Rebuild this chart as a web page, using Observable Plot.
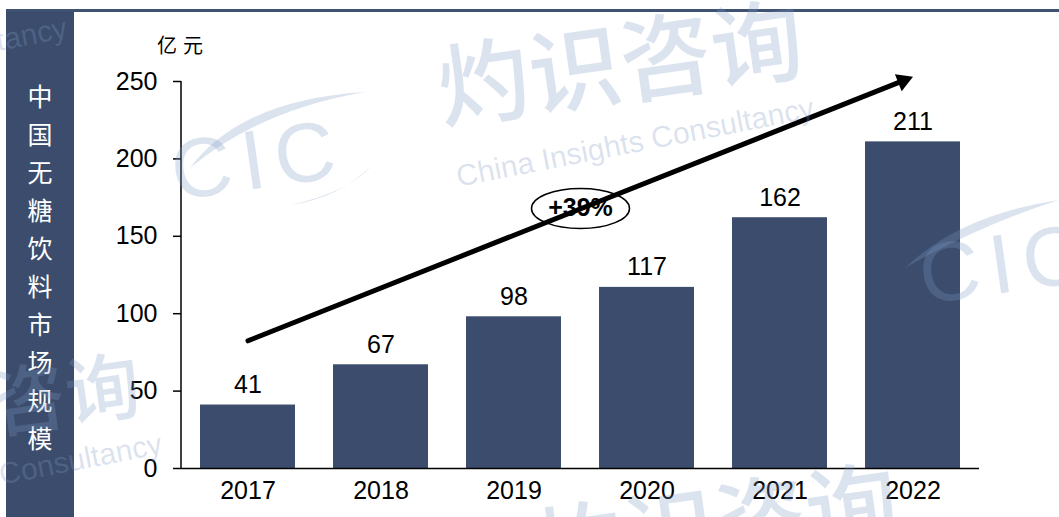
<!DOCTYPE html>
<html><head><meta charset="utf-8">
<script src="https://cdn.jsdelivr.net/npm/d3@7"></script>
<script src="https://cdn.jsdelivr.net/npm/@observablehq/plot@0.6"></script>
<style>
html,body{margin:0;padding:0;background:#fff;overflow:hidden;}
#wrap{position:relative;width:1059px;height:517px;overflow:hidden;background:#fff;}
#band{position:absolute;left:6px;top:10px;width:68px;height:507px;background:#3B4C6C;}
#topline{position:absolute;left:6px;top:9px;width:1053px;height:3px;background:#3F5272;}
#chart{position:absolute;left:0;top:0;}
#title{position:absolute;left:6px;width:68px;top:76px;color:#fff;font-family:"Noto Sans CJK SC",sans-serif;font-size:25px;line-height:38px;text-align:center;}
#unit{position:absolute;left:157px;top:33px;font-family:"Noto Sans CJK SC",sans-serif;font-size:20px;line-height:24px;letter-spacing:6px;color:#000;}
#wm{position:absolute;left:0;top:0;pointer-events:none;}
</style></head><body>
<div id="wrap">
  <div id="band"></div>
  <div id="topline"></div>
  <div id="chart"></div>
  <div id="title"></div>
  <div id="unit"></div>
  <svg id="wm" width="1059" height="517"></svg>
</div>
<script>
// ---- data ----
const years = ["2017", "2018", "2019", "2020", "2021", "2022"];
const values = [41, 67, 98, 117, 162, 211];
const yTicks = [0, 50, 100, 150, 200, 250];
const unitLabel = "亿元";
const titleText = "中国无糖饮料市场规模";
const cagrLabel = "+39%";
const trendStart = {year: "2017", value: 82.5};
const trendEnd = {year: "2022", value: 253};
const cagrPos = {year: "2019", value: 168};

const data = years.map((y, i) => ({year: y, value: values[i]}));

const barColor = "#3B4C6C";
const ellipseSymbol = {
  draw(ctx) {
    const rx = 49, ry = 20, k = 0.5523;
    ctx.moveTo(rx, 0);
    ctx.bezierCurveTo(rx, k * ry, k * rx, ry, 0, ry);
    ctx.bezierCurveTo(-k * rx, ry, -rx, k * ry, -rx, 0);
    ctx.bezierCurveTo(-rx, -k * ry, -k * rx, -ry, 0, -ry);
    ctx.bezierCurveTo(k * rx, -ry, rx, -k * ry, rx, 0);
    ctx.closePath();
  }
};

const plot = Plot.plot({
  width: 1059, height: 517,
  marginLeft: 181, marginRight: 80, marginTop: 81, marginBottom: 49,
  style: {fontFamily: "'Liberation Sans', Arial, sans-serif", fontSize: "25px", color: "#000", background: "none", overflow: "visible"},
  x: {domain: years, paddingInner: 0.286, paddingOuter: 0.143},
  y: {domain: [0, 250]},
  marks: [
    Plot.barY(data, {x: "year", y: "value", fill: barColor}),
    Plot.ruleY([0], {stroke: "#000", strokeWidth: 1.5}),
    Plot.axisY({ticks: yTicks, tickSize: 8, tickPadding: 16, fontSize: 25, label: null, strokeWidth: 1.5}),
    Plot.axisX({tickSize: 0, tickPadding: 13, fontSize: 25, label: null}),
    Plot.text(data, {x: "year", y: "value", text: d => String(d.value), dy: -20, fontSize: 25}),
    Plot.dot([cagrPos], {x: "year", y: "value", dx: 66.5, symbol: ellipseSymbol, fill: "none", stroke: "#000", strokeWidth: 1.5}),
    Plot.text([cagrPos], {x: "year", y: "value", dx: 66.5, text: () => cagrLabel, fontSize: 25, fontWeight: "bold"}),
    Plot.arrow([{a: trendStart, b: trendEnd}], {
      x1: d => d.a.year, y1: d => d.a.value, x2: d => d.b.year, y2: d => d.b.value,
      stroke: "#000", strokeWidth: 5, headLength: 0, insetEnd: 9
    }),
    Plot.dot([trendEnd], {x: "year", y: "value", symbol: "triangle", r: 6.8, fill: "#000", stroke: "none", rotate: 68.4, dx: -9.8, dy: 3.9})
  ]
});
document.getElementById("chart").appendChild(plot);

// y-axis line derived from the scales
const ys = plot.scale("y");
d3.select(plot).append("line")
  .attr("x1", 181).attr("x2", 181)
  .attr("y1", ys.apply(yTicks[yTicks.length - 1])).attr("y2", ys.apply(0))
  .attr("stroke", "#000").attr("stroke-width", 1.5);

// vertical title
const t = document.getElementById("title");
for (const ch of titleText) { const d = document.createElement("div"); d.textContent = ch; t.appendChild(d); }
document.getElementById("unit").textContent = unitLabel;

// watermarks
const wm = d3.select("#wm");
const wmFill = "#7F9BC4", wmOp = 0.28;
function wmText(txt, x, y, size, rot, family, extra = {}) {
  const e = wm.append("text").attr("x", x).attr("y", y)
    .attr("transform", `rotate(${rot},${x},${y})`)
    .attr("font-size", size).attr("font-family", family)
    .attr("fill", wmFill).attr("fill-opacity", wmOp).attr("text-anchor", "middle").text(txt);
  for (const k in extra) e.attr(k, extra[k]);
}
const cjk = "'Noto Sans CJK SC', sans-serif", lat = "'Liberation Sans', Arial, sans-serif";
wmText("灼识咨询", 625, 97, 92, -8, cjk, {"font-weight": 500});
wmText("China Insights Consultancy", 637, 152, 30, -11, lat);
wmText("CIC", 262, 188, 84, -8, lat, {"letter-spacing": "10px"});
wm.append("path").attr("d", "M190,168 Q240,100 365,92 Q260,110 190,168Z").attr("fill", wmFill).attr("fill-opacity", wmOp);
wm.append("path").attr("d", "M290,205 Q350,192 372,165 Q340,198 290,205Z").attr("fill", wmFill).attr("fill-opacity", wmOp);
wmText("CIC", 1010, 292, 84, -8, lat, {"letter-spacing": "10px"});
wm.append("path").attr("d", "M905,268 Q960,215 1059,200 Q980,225 905,268Z").attr("fill", wmFill).attr("fill-opacity", wmOp);
wmText("灼识咨询", 720, 560, 92, -8, cjk, {"font-weight": 500});
wmText("灼识咨询", -5, 432, 75, -8, cjk, {"font-weight": 500});
wmText("China Insights Consultancy", -15, 488, 30, -11, lat);
wmText("China Insights Consultancy", -110, 72, 30, -11, lat);
</script>
</body></html>
